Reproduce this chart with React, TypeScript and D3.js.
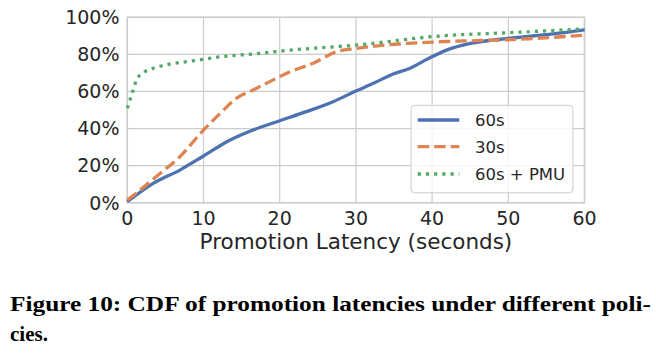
import React from "react";
import * as d3 from "d3";

const xTicks = [0, 10, 20, 30, 40, 50, 60];
const yTicks = [0, 20, 40, 60, 80, 100];

const blueX = [0, 3.4, 6.9, 10, 13.5, 16.5, 20, 23.5, 27, 30, 32.3, 34.9, 37.1, 39.3, 41.9, 45, 50, 55.9, 60];
const blueY = [0.5, 10.4, 17.6, 25.2, 33.8, 39.2, 44.2, 49.1, 54.5, 60.2, 64.4, 69.4, 72.5, 77.3, 82.3, 85.9, 88.6, 91, 93.2];

const orangeX = [0, 1.7, 4.3, 6.9, 10, 12.2, 14.3, 16.5, 18.7, 21.4, 24.4, 27.5, 30, 34, 41, 50, 60];
const orangeY = [1.4, 6.9, 15.8, 24.8, 39.2, 48.2, 56.3, 60.8, 65.3, 70.7, 75.2, 81.5, 83.2, 85.1, 86.8, 87.9, 90.3];

const greenX = [0, 0.35, 0.7, 1.2, 2.1, 3.4, 5.6, 7.8, 10, 12.2, 16.5, 21.4, 30, 41, 50, 60];
const greenY = [50.9, 55.4, 59.9, 66.2, 70.1, 72.5, 74.8, 76.1, 77.3, 78.7, 80.2, 82.3, 85, 89.9, 91.7, 93.7];

const seriesNames = ["60s", "30s", "60s + PMU"];
const xLabel = "Promotion Latency (seconds)";
const captionLine1 = "Figure 10: CDF of promotion latencies under different poli-";
const captionLine2 = "cies.";

const W = 656;
const H = 362;
const left = 127.3;
const right = 584.5;
const top = 17.3;
const bottom = 202.7;

const font = "'DejaVu Sans', sans-serif";
const textColor = "#262626";
const gridColor = "#cccccc";

export default function App() {
  const x = d3.scaleLinear().domain([0, 60]).range([left, right]);
  const y = d3.scaleLinear().domain([0, 100]).range([bottom, top]);
  const line = d3
    .line<[number, number]>()
    .x((d) => x(d[0]))
    .y((d) => y(d[1]))
    .curve(d3.curveMonotoneX);

  const series = [
    { name: seriesNames[0], xs: blueX, ys: blueY, color: "#4c72b0", dash: undefined as string | undefined },
    { name: seriesNames[1], xs: orangeX, ys: orangeY, color: "#dd8452", dash: "11.5,5" },
    { name: seriesNames[2], xs: greenX, ys: greenY, color: "#55a868", dash: "3.2,5" },
  ];

  const legX = 411;
  const legY = 105.3;
  const legW = 162;
  const legH = 87.5;
  const rowYs = [120, 146.7, 174];

  return (
    <div style={{ position: "absolute", left: 0, top: 0 }}>
      <svg width={W} height={H} viewBox={`0 0 ${W} ${H}`} style={{ display: "block", background: "#fff" }}>
        <rect x={0} y={0} width={W} height={H} fill="#fff" />
        {xTicks.map((t) => (
          <line key={"gx" + t} x1={x(t)} x2={x(t)} y1={top} y2={bottom} stroke={gridColor} strokeWidth={1.2} />
        ))}
        {yTicks.map((t) => (
          <line key={"gy" + t} x1={left} x2={right} y1={y(t)} y2={y(t)} stroke={gridColor} strokeWidth={1.2} />
        ))}
        <rect x={left} y={top} width={right - left} height={bottom - top} fill="none" stroke={gridColor} strokeWidth={1.5} />
        <clipPath id="plotclip">
          <rect x={left - 2} y={top - 3} width={right - left + 4} height={bottom - top + 5} />
        </clipPath>
        <g clipPath="url(#plotclip)">
          {series.map((s) => (
            <path
              key={s.name}
              d={line(s.xs.map((v, i) => [v, s.ys[i]] as [number, number])) || ""}
              fill="none"
              stroke={s.color}
              strokeWidth={3.3}
              strokeDasharray={s.dash}
            />
          ))}
        </g>
        {xTicks.map((t) => (
          <text key={"tx" + t} x={x(t)} y={225} textAnchor="middle" fontFamily={font} fontSize={19} fill={textColor}>
            {t}
          </text>
        ))}
        {yTicks.map((t) => (
          <text key={"ty" + t} x={119.5} y={y(t)} dy="0.36em" textAnchor="end" fontFamily={font} fontSize={19} fill={textColor}>
            {t + "%"}
          </text>
        ))}
        <text x={(left + right) / 2} y={249} textAnchor="middle" fontFamily={font} fontSize={21.5} fill={textColor}>
          {xLabel}
        </text>
        <rect x={legX} y={legY} width={legW} height={legH} rx={4} fill="#fff" fillOpacity={0.8} stroke={gridColor} strokeWidth={1} />
        {series.map((s, i) => (
          <g key={"leg" + s.name}>
            <line x1={417.7} x2={459.3} y1={rowYs[i]} y2={rowYs[i]} stroke={s.color} strokeWidth={3.3} strokeDasharray={s.dash} />
            <text x={475} y={rowYs[i]} dy="0.36em" fontFamily={font} fontSize={16.5} fill={textColor}>
              {s.name}
            </text>
          </g>
        ))}
        <text x={10} y={310.5} fontFamily="'Liberation Serif', serif" fontWeight="bold" fontSize={21} fill="#000" textLength={641} lengthAdjust="spacingAndGlyphs">
          {captionLine1}
        </text>
        <text x={10} y={340.5} fontFamily="'Liberation Serif', serif" fontWeight="bold" fontSize={21} fill="#000">
          {captionLine2}
        </text>
      </svg>
    </div>
  );
}
